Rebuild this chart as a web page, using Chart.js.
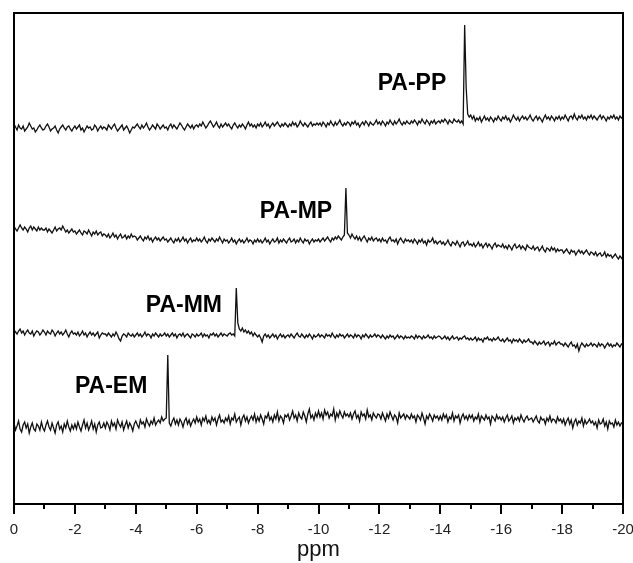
<!DOCTYPE html>
<html>
<head>
<meta charset="utf-8">
<script src="https://cdn.jsdelivr.net/npm/chart.js@4.4.1/dist/chart.umd.min.js"></script>
<style>
  html, body { margin: 0; padding: 0; background: #fff; }
</style>
</head>
<body>
<canvas id="graficoCanvas" width="633" height="563"></canvas>
<script>
// Etiquetas de cada espectro (de arriba hacia abajo)
const muestras = ["PA-PP", "PA-MP", "PA-MM", "PA-EM"];

// Intensidades, cada 0.05 ppm desde 0 hasta -20 (una fila = 1 ppm)
const espectroPP = [
  4,1,-2,3,0,-1,2,-3,-1,1,5,2,-1,0,-4,-2,1,3,0,-2,
  -1,2,4,1,-3,-1,0,2,-2,-5,-1,1,3,0,-2,1,2,-1,-3,0,
  2,-1,1,3,-2,0,-4,-1,2,0,1,-2,-1,3,1,-3,0,2,-1,1,
  0,-2,3,1,-1,2,4,0,-3,-1,1,3,-2,0,2,-1,-5,-2,1,0,
  2,4,1,-1,3,0,2,5,1,-2,0,3,1,-1,4,2,-1,1,3,0,
  1,-2,2,4,0,3,1,-1,2,5,3,0,-2,1,4,2,0,3,-1,2,
  3,1,4,2,6,3,0,2,5,7,4,1,3,6,2,0,4,1,3,5,
  2,4,1,-1,3,5,2,0,3,1,4,2,-1,3,6,2,4,1,3,0,
  4,2,5,1,3,6,2,4,0,3,5,2,4,6,3,1,4,2,5,3,
  1,4,2,6,3,5,1,3,7,4,2,5,3,1,4,6,2,4,3,5,
  3,5,2,6,4,1,5,3,7,4,2,6,3,5,8,4,2,5,3,6,
  5,2,6,4,7,3,5,1,4,6,3,7,5,2,6,4,3,5,8,4,
  6,3,7,5,2,6,4,8,5,3,7,4,6,9,5,3,6,4,7,5,
  4,7,5,8,6,3,7,5,9,6,4,8,6,3,7,5,8,4,6,7,
  5,8,6,9,7,4,8,6,5,9,7,6,8,5,7,4,103,40,14,11,
  13,9,12,7,10,8,11,6,9,12,8,10,7,11,9,6,10,8,12,9,
  7,11,9,12,8,10,6,9,13,10,8,11,7,10,12,9,11,8,10,13,
  9,7,10,12,8,11,9,6,10,13,9,11,8,12,10,7,11,9,12,8,
  11,9,13,10,7,11,12,9,14,10,8,12,10,13,9,11,8,12,10,13,
  9,12,10,8,11,13,9,12,10,7,11,9,12,10,13,9,11,8,12,10,
  11
];
const espectroMP = [
  3,0,-2,1,4,1,-1,2,0,-3,1,3,-1,2,0,-2,2,-1,1,-1,
  -1,1,-3,0,-2,-4,-1,2,-2,0,1,-1,3,0,-3,-1,-4,-2,0,-3,
  -2,-5,-3,-1,-4,-6,-2,-3,-5,-1,-4,-7,-3,-5,-2,-6,-4,-3,-7,-5,
  -6,-8,-5,-9,-7,-4,-8,-6,-10,-7,-5,-9,-8,-6,-10,-7,-9,-5,-8,-7,
  -8,-11,-9,-7,-10,-12,-8,-10,-7,-11,-9,-13,-10,-8,-11,-9,-12,-10,-8,-11,
  -10,-13,-11,-9,-12,-14,-10,-12,-9,-13,-11,-8,-12,-10,-14,-11,-9,-13,-11,-12,
  -9,-12,-10,-13,-11,-8,-12,-14,-10,-12,-9,-11,-13,-10,-12,-8,-11,-14,-10,-12,
  -11,-14,-12,-9,-13,-11,-15,-12,-10,-13,-11,-14,-12,-9,-13,-11,-12,-15,-11,-13,
  -10,-13,-11,-14,-12,-9,-13,-11,-15,-12,-10,-13,-12,-9,-14,-11,-13,-10,-12,-14,
  -11,-9,-13,-12,-10,-14,-11,-13,-9,-12,-14,-10,-12,-11,-15,-12,-10,-13,-11,-12,
  -10,-13,-11,-9,-12,-10,-8,-11,-13,-9,-11,-8,-10,-7,-9,-11,-8,-6,41,-4,
  -6,-9,-5,-8,-10,-7,-11,-8,-12,-9,-7,-10,-13,-9,-11,-8,-12,-10,-9,-12,
  -10,-13,-9,-12,-11,-14,-10,-8,-12,-11,-13,-10,-15,-11,-9,-12,-14,-10,-12,-11,
  -13,-11,-14,-10,-12,-15,-11,-13,-10,-14,-12,-16,-11,-13,-12,-9,-14,-12,-15,-13,
  -12,-15,-13,-16,-14,-11,-15,-17,-13,-14,-16,-12,-15,-18,-14,-13,-17,-15,-12,-16,
  -15,-17,-14,-18,-16,-13,-17,-15,-19,-16,-14,-18,-15,-17,-20,-16,-14,-18,-16,-17,
  -18,-15,-19,-17,-20,-16,-18,-21,-17,-15,-19,-18,-16,-20,-17,-19,-21,-16,-18,-19,
  -20,-17,-21,-19,-18,-22,-20,-17,-21,-23,-19,-20,-22,-18,-21,-19,-23,-20,-22,-21,
  -21,-24,-22,-20,-23,-25,-21,-23,-22,-26,-23,-21,-24,-22,-25,-23,-21,-24,-26,-23,
  -24,-26,-23,-27,-25,-24,-27,-26,-23,-28,-25,-27,-26,-29,-27,-25,-28,-30,-27,-29,
  -31
];
const espectroMM = [
  3,1,-1,2,4,0,2,-2,1,3,0,-1,2,-3,0,2,1,-2,0,3,
  1,-2,2,0,-1,3,1,-3,0,2,-1,1,-2,0,3,-1,-4,0,2,-1,
  0,-2,1,-3,-1,2,-2,0,-4,-1,1,-2,0,-3,-1,1,-5,-2,0,-1,
  -1,-3,0,-2,-4,-1,-3,1,-2,-6,-8,-3,-1,-2,-4,0,-2,-3,-1,-4,
  -2,0,-3,-1,-4,-2,1,-3,-1,-2,-5,-1,-3,0,-2,-4,-1,-3,-2,0,
  -3,-1,-4,-2,0,-3,-1,-5,-2,-1,-3,0,-4,-2,-1,-3,-5,-1,-2,-4,
  -1,-3,-2,0,-4,-1,-3,-2,-5,-1,-2,0,-3,-1,-4,-2,0,-3,-1,-2,
  -3,-1,0,-2,-1,-3,45,10,4,2,5,1,3,0,2,-1,1,-3,0,-2,
  -4,-2,-5,-9,-3,-1,-4,-2,-5,-3,-1,-4,-2,-6,-3,-1,-4,-2,-5,-3,
  -2,-4,-1,-3,-5,-2,0,-3,-4,-1,-3,-5,-2,-4,-1,-3,-6,-2,-4,-3,
  -1,-4,-2,-3,-5,-1,-3,-2,-4,0,-3,-5,-2,-4,-1,-3,-2,-5,-3,-1,
  -4,-2,-3,-5,-1,-4,-2,-3,-6,-2,-4,-1,-3,-5,-2,-4,-3,-1,-4,-2,
  -3,-5,-2,-4,-6,-3,-5,-2,-4,-3,-6,-4,-2,-5,-3,-4,-6,-3,-5,-4,
  -5,-3,-4,-6,-2,-5,-3,-4,-6,-3,-5,-4,-2,-5,-4,-6,-3,-5,-4,-3,
  -4,-6,-5,-3,-6,-4,-7,-5,-3,-6,-5,-4,-7,-5,-6,-4,-3,-6,-5,-7,
  -5,-7,-6,-4,-8,-5,-7,-6,-9,-5,-6,-4,-7,-6,-8,-5,-7,-6,-4,-7,
  -8,-6,-9,-7,-5,-8,-7,-10,-6,-8,-7,-9,-6,-8,-10,-7,-9,-8,-6,-9,
  -9,-11,-8,-10,-12,-9,-11,-10,-8,-12,-10,-9,-13,-10,-11,-8,-12,-10,-9,-11,
  -11,-13,-10,-12,-14,-11,-9,-13,-12,-15,-11,-18,-13,-10,-12,-14,-11,-13,-12,-10,
  -13,-11,-12,-14,-10,-13,-11,-12,-15,-12,-10,-13,-11,-14,-12,-13,-10,-12,-14,-11,
  -12
];
const espectroEM = [
  4,-3,1,6,-2,-5,2,5,-1,3,-6,0,4,-2,-4,3,1,-3,5,-1,
  -4,2,6,0,-3,4,-1,-6,2,5,-2,1,-5,3,-1,6,0,-4,2,-2,
  3,-2,5,0,-4,2,7,-1,4,-3,1,6,-2,3,-5,2,5,-1,0,4,
  -1,5,2,-3,6,1,4,-2,7,3,0,5,-3,2,6,-1,4,1,-4,3,
  6,2,-1,7,3,5,0,8,4,1,6,3,9,2,5,7,4,10,6,8,
  9,72,4,1,6,9,3,7,2,8,5,0,6,9,3,7,1,5,8,4,
  10,5,8,2,9,6,11,4,7,3,10,6,9,2,8,12,5,7,4,9,
  6,11,3,9,7,13,5,8,10,2,9,12,6,10,4,8,11,7,13,5,
  10,6,12,8,3,11,9,14,7,10,5,12,8,15,6,11,9,4,12,10,
  13,7,11,16,9,12,6,14,10,8,15,11,5,13,18,9,12,7,14,10,
  16,10,14,8,17,12,15,9,13,11,18,7,14,10,16,12,9,15,11,13,
  10,14,8,13,16,9,12,6,15,11,13,8,17,10,12,7,14,11,9,13,
  12,8,14,10,6,13,9,15,11,7,12,10,4,14,9,11,13,8,12,10,
  8,13,9,11,5,12,10,7,14,9,3,11,8,13,10,6,12,9,11,7,
  11,7,13,9,12,5,10,8,14,6,11,9,12,4,10,13,8,11,7,12,
  9,12,6,10,8,13,5,11,9,7,12,8,10,3,11,9,6,12,8,10,
  7,10,5,9,12,6,8,11,4,9,7,10,6,12,8,5,9,11,7,8,
  9,5,8,11,6,4,10,7,8,3,9,6,11,5,8,7,4,10,6,8,
  4,8,2,6,9,3,7,-1,5,8,2,6,4,9,1,7,3,5,8,4,
  6,2,5,-1,7,3,4,8,1,5,-2,6,3,4,0,7,2,5,1,4,
  4
];

// Desplazamiento vertical de cada espectro apilado
const desplazamientos = [376, 275, 171, 77];

// Etiquetas del eje x (ppm)
const ticksX = [0, -2, -4, -6, -8, -10, -12, -14, -16, -18, -20];

// Anclas de los textos (ppm, intensidad)
const anclasTexto = [[-13.07, 420], [-9.26, 292], [-5.58, 198], [-3.19, 117]];

const espectros = [espectroPP, espectroMP, espectroMM, espectroEM];

// Construir los datasets con x en ppm
const datasets = espectros.map((serie, k) => ({
  label: muestras[k],
  data: serie.map((v, i) => ({ x: -i / 20, y: v + desplazamientos[k] })),
  borderColor: "#111",
  borderWidth: 1.3,
  pointRadius: 0,
  tension: 0,
  fill: false,
}));

// Marco, marcas del eje x y textos de cada muestra
const decoracion = {
  id: "decoracion",
  afterDraw(chart) {
    const ctx = chart.ctx;
    const area = chart.chartArea;
    const sx = chart.scales.x;
    const sy = chart.scales.y;
    ctx.save();
    ctx.strokeStyle = "#000";
    ctx.lineWidth = 2;
    ctx.strokeRect(area.left, area.top, area.right - area.left, area.bottom - area.top);
    for (let v = 0; v >= -20; v--) {
      const px = Math.round(sx.getPixelForValue(v));
      const largo = v % 2 === 0 ? 10 : 5;
      ctx.beginPath();
      ctx.moveTo(px, area.bottom);
      ctx.lineTo(px, area.bottom + largo);
      ctx.stroke();
    }
    ctx.fillStyle = "#000";
    ctx.font = "bold 23px 'Liberation Sans', Arial, sans-serif";
    ctx.textAlign = "center";
    ctx.textBaseline = "middle";
    anclasTexto.forEach((a, k) => {
      ctx.fillText(muestras[k], sx.getPixelForValue(a[0]), sy.getPixelForValue(a[1]));
    });
    ctx.restore();
  },
};

const ctx = document.getElementById("graficoCanvas").getContext("2d");
new Chart(ctx, {
  type: "line",
  data: { datasets },
  options: {
    responsive: false,
    animation: false,
    devicePixelRatio: 1,
    layout: { padding: { left: 14, right: 10, top: 13, bottom: 0 } },
    plugins: { legend: { display: false }, tooltip: { enabled: false } },
    scales: {
      x: {
        type: "linear",
        min: -20,
        max: 0,
        reverse: true,
        grid: { display: false, drawTicks: false },
        border: { display: false },
        afterBuildTicks: (scale) => {
          scale.ticks = ticksX.map((v) => ({ value: v }));
        },
        afterFit: (scale) => {
          scale.height = 59;
          // sin margen extra para las etiquetas de los extremos
          scale.paddingLeft = 0;
          scale.paddingRight = 0;
        },
        ticks: {
          padding: 17,
          color: "#222",
          font: { family: "'Liberation Sans', Arial, sans-serif", size: 15 },
          maxRotation: 0,
          autoSkip: false,
        },
        title: {
          display: true,
          text: "ppm",
          color: "#111",
          padding: { top: 2, bottom: 0 },
          font: { family: "'Liberation Sans', Arial, sans-serif", size: 22 },
        },
      },
      y: { display: false, min: 0, max: 491 },
    },
  },
  plugins: [decoracion],
});
</script>
</body>
</html>
